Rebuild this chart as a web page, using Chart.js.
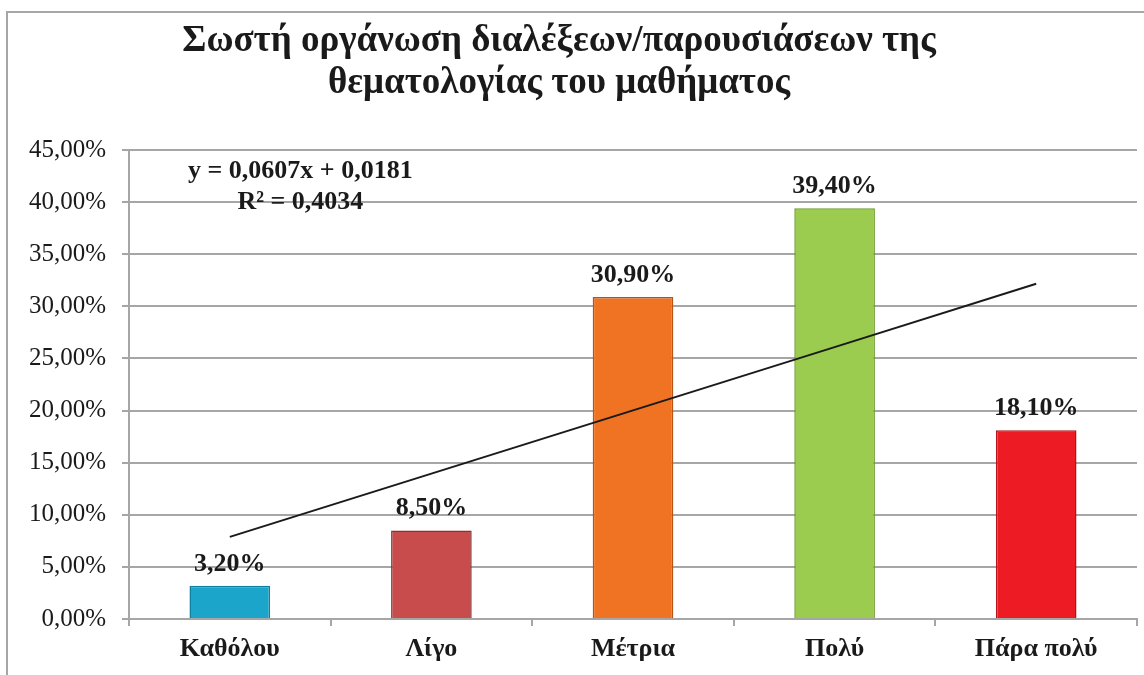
<!DOCTYPE html>
<html>
<head>
<meta charset="utf-8">
<script src="https://cdn.jsdelivr.net/npm/chart.js@4.4.0/dist/chart.umd.min.js"></script>
<style>
body { margin: 0; background: #fff; overflow: hidden; }
#frame { position: absolute; left: 6px; top: 11px; width: 1160px; height: 700px; border: 2px solid #a6a6a6; box-sizing: border-box; }
#wrap { position: absolute; left: 0; top: 0; width: 1144px; height: 675px; }
</style>
</head>
<body>
<div id="frame"></div>
<div id="wrap"><canvas id="chartjs-0"></canvas></div>
<script>
var titleLines = ["Σωστή οργάνωση διαλέξεων/παρουσιάσεων της", "θεματολογίας του μαθήματος"];
var categories = ["Καθόλου", "Λίγο", "Μέτρια", "Πολύ", "Πάρα πολύ"];
var values = [0.032, 0.085, 0.309, 0.394, 0.181];
/* linear trend at each category */
var trendValues = [0.0788, 0.1395, 0.2002, 0.2609, 0.3216];
var trendText = ["y = 0,0607x + 0,0181", "R² = 0,4034"];
var barColors = ["#1ba5cb", "#c94c4c", "#f07223", "#9bcb4f", "#ed1c24"];
var barEdges = ["#0e7f9f", "#8e2f2f", "#b95312", "#6f9a30", "#b0141a"];

var serif = "'Liberation Serif', 'Times New Roman', serif";
var gridGrey = "#a6a6a6";

function pct(v) {
    return (v * 100).toFixed(2).replace(".", ",") + "%";
}

var extras = {
    id: "extras",
    afterDatasetsDraw: function(chart) {
        var ctx = chart.ctx;
        var xs = chart.scales.x, ys = chart.scales.y;
        ctx.save();
        ctx.fillStyle = "#1a1a1a";
        ctx.textAlign = "center";
        ctx.textBaseline = "alphabetic";

        // value labels above the bars
        ctx.font = "bold 26px " + serif;
        chart.getDatasetMeta(1).data.forEach(function(bar, i) {
            ctx.fillText(pct(values[i]), bar.x, bar.y - 15);
        });

        // trendline equation
        ctx.font = "bold 26px " + serif;
        ctx.fillText(trendText[0], xs.getPixelForValue(0.35), ys.getPixelForValue(0.423));
        ctx.fillText(trendText[1], xs.getPixelForValue(0.35), ys.getPixelForValue(0.393));

        // title
        ctx.font = "bold 37px " + serif;
        ctx.fillText(titleLines[0], 559, 51);
        ctx.fillText(titleLines[1], 559, 93);
        ctx.restore();
    }
};

var ctx0 = document.getElementById("chartjs-0");

var myChart = new Chart(ctx0, {
    type: "bar",
    data: {
        labels: categories,
        datasets: [{
            type: "line",
            data: trendValues,
            borderColor: "#1a1a1a",
            borderWidth: 2,
            pointRadius: 0,
            fill: false,
            tension: 0,
            order: 0
        }, {
            type: "bar",
            data: values,
            backgroundColor: barColors,
            borderColor: barEdges,
            borderWidth: 1.5,
            barPercentage: 0.4,
            categoryPercentage: 1,
            order: 1
        }]
    },
    options: {
        responsive: true,
        maintainAspectRatio: false,
        animation: false,
        layout: { padding: { top: 150, right: 7, left: 0, bottom: 0 } },
        plugins: {
            legend: { display: false },
            tooltip: { enabled: false },
            title: { display: false }
        },
        scales: {
            x: {
                grid: { drawOnChartArea: false, offset: true, tickLength: 7, color: gridGrey, lineWidth: 2 },
                border: { color: gridGrey, width: 2 },
                ticks: { color: "#1a1a1a", font: { family: serif, size: 26, weight: "bold" }, padding: 8, maxRotation: 0 },
                afterFit: function(s) { s.height = 56; }
            },
            y: {
                min: 0,
                max: 0.45,
                ticks: { stepSize: 0.05, callback: pct, color: "#1a1a1a", font: { family: serif, size: 25 }, padding: 16 },
                grid: { color: gridGrey, lineWidth: 2, tickLength: 7 },
                border: { color: gridGrey, width: 2 },
                afterFit: function(s) { s.width = 129; }
            }
        }
    },
    plugins: [extras]
});
</script>
</body>
</html>
